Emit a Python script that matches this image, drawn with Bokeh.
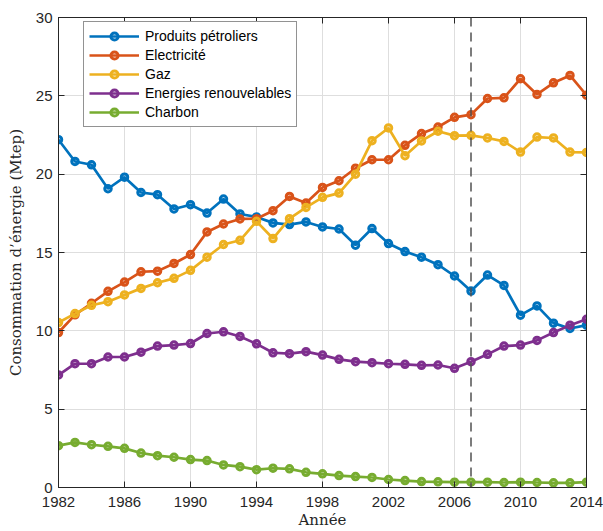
from bokeh.plotting import figure
from bokeh.models import (Legend, LegendItem, Span, FixedTicker, LinearAxis, Range1d)
from bokeh.embed import file_html
from bokeh.resources import INLINE

years = list(range(1982, 2015))

petrole = [22.2, 20.81, 20.6, 19.07, 19.81, 18.83, 18.69, 17.78, 18.05, 17.52,
           18.41, 17.46, 17.27, 16.89, 16.78, 16.95, 16.63, 16.5, 15.47, 16.53,
           15.57, 15.06, 14.7, 14.22, 13.5, 12.54, 13.56, 12.9, 11.0, 11.59,
           10.49, 10.15, 10.36]
electricite = [9.89, 11.02, 11.76, 12.52, 13.11, 13.77, 13.81, 14.3, 14.87, 16.31,
               16.82, 17.14, 17.16, 17.67, 18.58, 18.16, 19.15, 19.58, 20.38, 20.92,
               20.92, 21.84, 22.59, 23.01, 23.63, 23.8, 24.83, 24.87, 26.09, 25.09,
               25.83, 26.3, 25.04]
gaz = [10.53, 11.1, 11.63, 11.86, 12.29, 12.71, 13.07, 13.35, 13.86, 14.7,
       15.51, 15.78, 16.99, 15.89, 17.16, 17.88, 18.52, 18.79, 20.0, 22.14,
       22.95, 21.18, 22.12, 22.74, 22.46, 22.48, 22.31, 22.09, 21.41, 22.37,
       22.31, 21.41, 21.39]
renouvelables = [7.18, 7.9, 7.9, 8.33, 8.33, 8.64, 9.03, 9.09, 9.19, 9.83,
                 9.94, 9.64, 9.17, 8.6, 8.54, 8.67, 8.45, 8.18, 8.03, 7.97,
                 7.9, 7.86, 7.8, 7.82, 7.61, 8.03, 8.5, 9.03, 9.09, 9.39,
                 9.89, 10.36, 10.74]
charbon = [2.67, 2.88, 2.73, 2.63, 2.5, 2.2, 2.03, 1.93, 1.78, 1.72,
           1.44, 1.33, 1.14, 1.23, 1.19, 0.97, 0.87, 0.76, 0.7, 0.64,
           0.51, 0.44, 0.38, 0.36, 0.34, 0.34, 0.34, 0.32, 0.34, 0.32,
           0.3, 0.3, 0.34]

series = [
    ("Produits pétroliers", petrole, "#0072BD"),
    ("Electricité", electricite, "#D95319"),
    ("Gaz", gaz, "#EDB120"),
    ("Energies renouvelables", renouvelables, "#7E2F8E"),
    ("Charbon", charbon, "#77AC30"),
]

x_ticks = [1982, 1986, 1990, 1994, 1998, 2002, 2006, 2010, 2014]
y_ticks = [0, 5, 10, 15, 20, 25, 30]
marker_year = 2007

AX = "#262626"
SANS = "Liberation Sans"
SERIF = "DejaVu Serif"

FRAME_H = 472

p = figure(width=603, height=531, output_backend="svg", toolbar_location=None,
           x_range=Range1d(1982, 2014), y_range=Range1d(0, 30),
           min_border_left=58, min_border_right=17, min_border_top=17, min_border_bottom=42,
           background_fill_color="white", border_fill_color="white")

p.outline_line_color = AX
p.outline_line_width = 1

for ax in (p.xaxis[0], p.yaxis[0]):
    ax.axis_line_color = AX
    ax.major_tick_line_color = AX
    ax.major_tick_in = 6
    ax.major_tick_out = 0
    ax.minor_tick_line_color = None
    ax.major_label_text_font = SANS
    ax.major_label_text_font_size = "15px"
    ax.major_label_text_color = "#262626"
    ax.axis_label_text_font = SERIF
    ax.axis_label_text_font_style = "normal"
    ax.axis_label_text_color = "#262626"

p.xaxis[0].ticker = FixedTicker(ticks=x_ticks)
p.yaxis[0].ticker = FixedTicker(ticks=y_ticks)
p.xaxis[0].axis_label = "Année"
p.xaxis[0].axis_label_text_font_size = "15px"
p.xaxis[0].major_label_standoff = 9
p.xaxis[0].axis_label_standoff = 1
p.yaxis[0].axis_label = "Consommation d’énergie (Mtep)"
p.yaxis[0].axis_label_text_font_size = "15px"
p.yaxis[0].major_label_standoff = 6
p.yaxis[0].axis_label_standoff = 8

# mirrored ticks on top and right
for loc, tk in (("above", x_ticks), ("right", y_ticks)):
    a = LinearAxis(ticker=FixedTicker(ticks=tk))
    a.axis_line_color = AX
    a.major_tick_line_color = AX
    a.major_tick_in = 6
    a.major_tick_out = 0
    a.minor_tick_line_color = None
    a.major_label_text_font_size = "1px"
    a.major_label_text_color = None
    a.major_label_standoff = 0
    p.add_layout(a, loc)

p.xgrid.ticker = FixedTicker(ticks=x_ticks)
p.ygrid.ticker = FixedTicker(ticks=y_ticks)
p.xgrid.grid_line_color = "#dedede"
p.ygrid.grid_line_color = "#dedede"

items = []
for name, vals, col in series:
    r1 = p.line(years, vals, line_color=col, line_width=2.7)
    r2 = p.scatter(years, vals, marker="circle", size=6.5, line_color=col,
                   line_width=3, fill_color=col, fill_alpha=0.0)
    items.append(LegendItem(label=name, renderers=[r1, r2]))

p.add_layout(Span(location=marker_year, dimension="height", line_color="#505050",
                  line_width=1.5, line_dash="9 6"))

legend = Legend(items=items, location=(25, FRAME_H - 8 - 104))
legend.label_text_font = SANS
legend.label_text_font_size = "14px"
legend.label_text_color = "#000000"
legend.glyph_width = 50
legend.glyph_height = 18
legend.label_height = 18
legend.label_standoff = 6
legend.spacing = 1
legend.padding = 5
legend.margin = 0
legend.border_line_color = AX
legend.border_line_width = 1
legend.background_fill_color = "white"
legend.background_fill_alpha = 1.0
p.add_layout(legend, "center")

open("out.html", "w").write(file_html(p, INLINE))
